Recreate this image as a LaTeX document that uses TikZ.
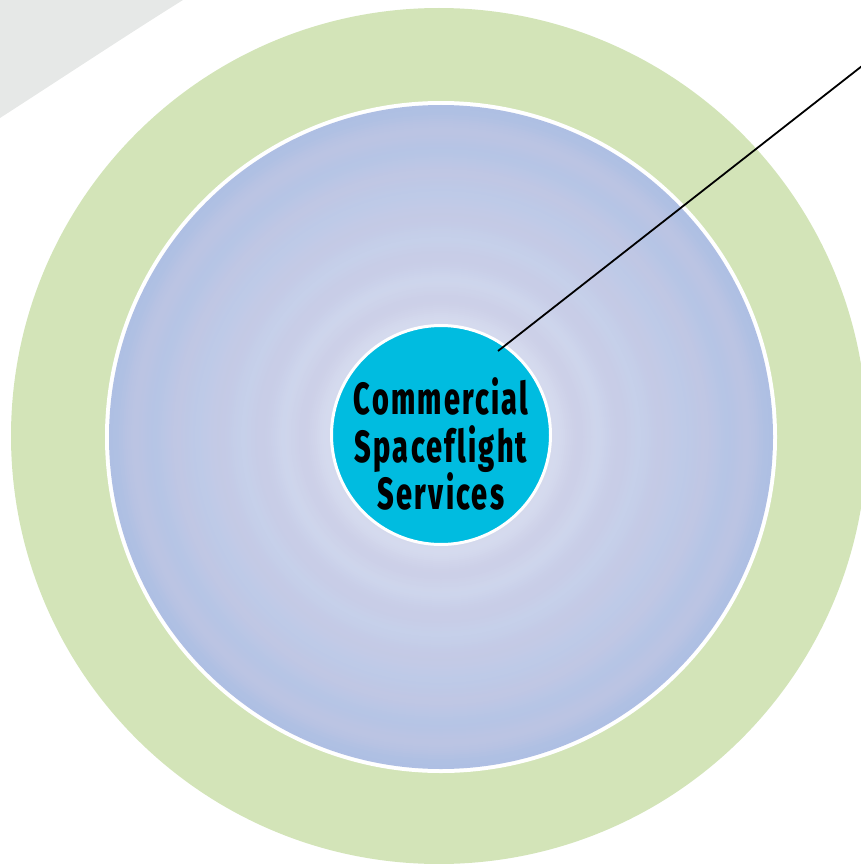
\documentclass[tikz,border=0pt]{standalone}
\usepackage{fontspec}
\usepackage{xcolor}
\usepackage{tikz}
\usetikzlibrary{calc}

\newfontfamily\hubfont[FakeStretch=0.64, LetterSpace=5, Ligatures=NoCommon, BoldFont={* ExtraBold}]{Fira Sans}

\definecolor{greyband}{HTML}{E6E8E7}
\definecolor{outergreen}{HTML}{D3E4B8}
\definecolor{ringedge}{HTML}{AEBFE3}
\definecolor{ringcentre}{HTML}{D6DBEE}
\definecolor{ringtint}{HTML}{C6C6E2}
\definecolor{hubcyan}{HTML}{00BCE0}

\begin{document}
\begin{tikzpicture}[x=1pt,y=-1pt]
        \tikzstyle{hub} = [circle, minimum size=219pt, inner sep=0pt, fill=hubcyan, draw=white, line width=3pt]
        \tikzstyle{hubtext} = [align=center, font=\hubfont\bfseries\fontsize{45}{47.5}\selectfont, inner sep=0pt]

        \clip (0,0) rectangle (861,864);

        % grey corner band
        \fill[greyband] (0,0) -- (183,0) .. controls (130,33) and (62,78) .. (0,118) -- cycle;

        % outer green disc and white rim
        \fill[outergreen] (439,436) circle (428);
        \fill[white] (441,437) circle (336);

        % banded blue disc
        \foreach \r in {332,330,...,100}
        {
                \pgfmathsetmacro{\t}{max(0,min(100,(\r-110)/2.22))}
                \pgfmathsetmacro{\b}{22*(1+sin(\r*8.5))}
                \colorlet{ringbase}{ringedge!\t!ringcentre}
                \fill[ringtint!\b!ringbase] (441,437) circle (\r);
        }

        \node[hub] (hub) at (441,435) {};
        \node[hubtext] (hublabel) at ([yshift=-9pt]hub.center) {Commercial\\Spaceflight\\Services};

        \coordinate (pin) at (498,351);
        \coordinate (callout) at (862,66);
        \draw[line width=1.8pt] (pin) -- (callout);
\end{tikzpicture}
\end{document}
